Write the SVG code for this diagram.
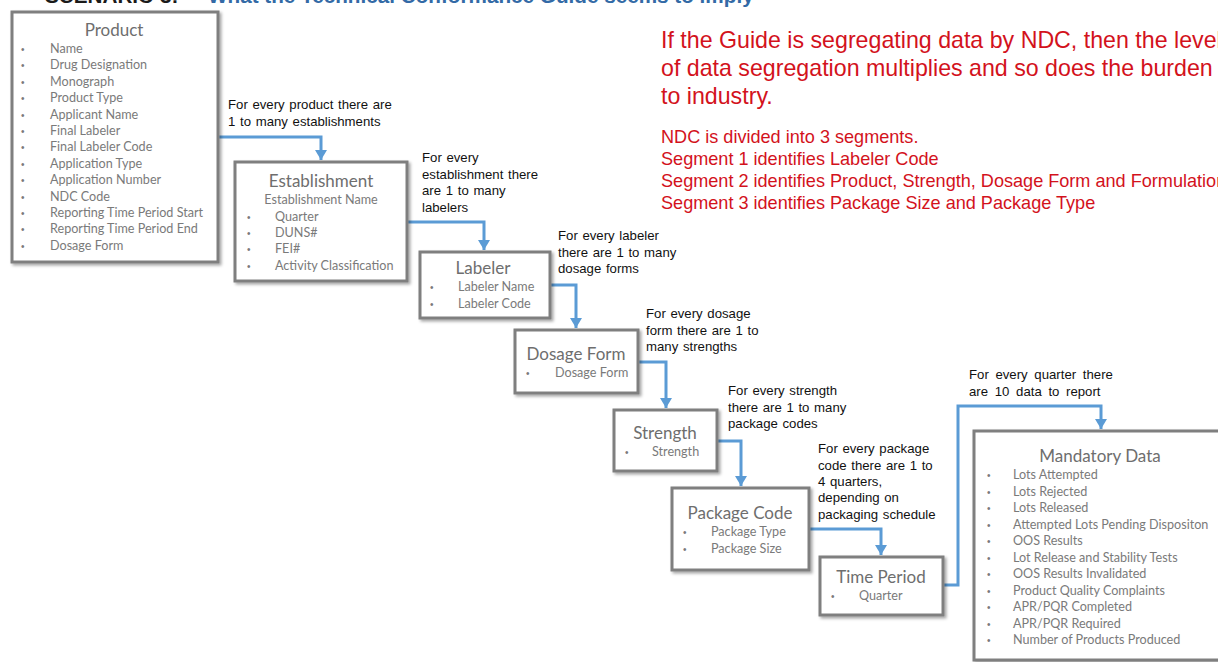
<svg xmlns="http://www.w3.org/2000/svg" width="1218" height="662" viewBox="0 0 1218 662">
<style>
.box{fill:#fff;stroke:#7f7f7f;stroke-width:3;filter:url(#sh)}
.t{font-family:Lato,"Open Sans",sans-serif;font-size:17px;fill:#6e6e6e;text-anchor:middle}
.i{font-family:Lato,"Open Sans",sans-serif;font-size:12.6px;fill:#7a7a7a}
.b{font-family:"Liberation Sans",sans-serif;font-size:10px;fill:#7a7a7a}
.l{font-family:"Liberation Sans",Arial,sans-serif;font-size:13.2px;fill:#111;word-spacing:1px}
.r1{font-family:"Liberation Sans",Arial,sans-serif;font-size:23.2px;fill:#d3121c}
.r2{font-family:"Liberation Sans",Arial,sans-serif;font-size:18.1px;fill:#d3121c}
.c{fill:none;stroke:#5b9bd5;stroke-width:3;marker-end:url(#ah)}
.h{font-family:"Liberation Sans",Arial,sans-serif;font-size:20.7px;font-weight:bold}
</style>
<defs>
<filter id="sh" x="-10%" y="-10%" width="130%" height="130%">
<feDropShadow dx="2" dy="2" stdDeviation="1.5" flood-color="#000" flood-opacity="0.35"/>
</filter>
<marker id="ah" markerUnits="userSpaceOnUse" markerWidth="12" markerHeight="12" refX="10" refY="6" orient="auto">
<path d="M0,0 L10,6 L0,12 z" fill="#5b9bd5"/>
</marker>
</defs>
<rect width="1218" height="662" fill="#fff"/>
<g id="heading">
<text x="45" y="2.5" class="h" fill="#1a1a1a">SCENARIO 3:</text>
<text x="208" y="2.5" class="h" fill="#336aa6">What the Technical Conformance Guide seems to imply</text>
</g>

<g id="connectors">
<path class="c" d="M218,137 H321 V160"/>
<path class="c" d="M407,222 H484 V250"/>
<path class="c" d="M550,285 H576 V328"/>
<path class="c" d="M638,362 H666 V408"/>
<path class="c" d="M717,441 H741 V486"/>
<path class="c" d="M809,529 H881 V555"/>
<path class="c" d="M943,585 H958 V406 H1101 V429"/>
</g>

<g id="labels">
<text class="l"><tspan x="228" y="109">For every product there are</tspan><tspan x="228" y="126">1 to many establishments</tspan></text>
<text class="l"><tspan x="422" y="162">For every</tspan><tspan x="422" y="179">establishment there</tspan><tspan x="422" y="195">are 1 to many</tspan><tspan x="422" y="212">labelers</tspan></text>
<text class="l"><tspan x="558" y="240">For every labeler</tspan><tspan x="558" y="257">there are 1 to many</tspan><tspan x="558" y="273">dosage forms</tspan></text>
<text class="l"><tspan x="646" y="318">For every dosage</tspan><tspan x="646" y="335">form there are 1 to</tspan><tspan x="646" y="351">many strengths</tspan></text>
<text class="l"><tspan x="728" y="395">For every strength</tspan><tspan x="728" y="412">there are 1 to many</tspan><tspan x="728" y="428">package codes</tspan></text>
<text class="l"><tspan x="818" y="453">For every package</tspan><tspan x="818" y="470">code there are 1 to</tspan><tspan x="818" y="486">4 quarters,</tspan><tspan x="818" y="502">depending on</tspan><tspan x="818" y="519">packaging schedule</tspan></text>
<text class="l" style="word-spacing:3px"><tspan x="969" y="379">For every quarter there</tspan><tspan x="969" y="396">are 10 data to report</tspan></text>
</g>

<g id="note">
<text class="r1"><tspan x="661" y="48">If the Guide is segregating data by NDC, then the level</tspan><tspan x="661" y="76">of data segregation multiplies and so does the burden</tspan><tspan x="661" y="104">to industry.</tspan></text>
<text class="r2"><tspan x="661" y="143">NDC is divided into 3 segments.</tspan><tspan x="661" y="165">Segment 1 identifies Labeler Code</tspan><tspan x="661" y="187">Segment 2 identifies Product, Strength, Dosage Form and Formulation</tspan><tspan x="661" y="209">Segment 3 identifies Package Size and Package Type</tspan></text>
</g>

<g id="product">
<rect class="box" x="12" y="12" width="206" height="250"/>
<text class="t" x="114" y="36">Product</text>
<text class="b"><tspan x="21" y="53">•</tspan><tspan x="21" y="69.4">•</tspan><tspan x="21" y="85.8">•</tspan><tspan x="21" y="102.2">•</tspan><tspan x="21" y="118.6">•</tspan><tspan x="21" y="135">•</tspan><tspan x="21" y="151.4">•</tspan><tspan x="21" y="167.8">•</tspan><tspan x="21" y="184.2">•</tspan><tspan x="21" y="200.6">•</tspan><tspan x="21" y="217">•</tspan><tspan x="21" y="233.4">•</tspan><tspan x="21" y="249.8">•</tspan></text>
<text class="i"><tspan x="50" y="53">Name</tspan><tspan x="50" y="69.4">Drug Designation</tspan><tspan x="50" y="85.8">Monograph</tspan><tspan x="50" y="102.2">Product Type</tspan><tspan x="50" y="118.6">Applicant Name</tspan><tspan x="50" y="135">Final Labeler</tspan><tspan x="50" y="151.4">Final Labeler Code</tspan><tspan x="50" y="167.8">Application Type</tspan><tspan x="50" y="184.2">Application Number</tspan><tspan x="50" y="200.6">NDC Code</tspan><tspan x="50" y="217">Reporting Time Period Start</tspan><tspan x="50" y="233.4">Reporting Time Period End</tspan><tspan x="50" y="249.8">Dosage Form</tspan></text>
</g>

<g id="establishment">
<rect class="box" x="235" y="162" width="172" height="119"/>
<text class="t" x="321" y="187">Establishment</text>
<text class="i" x="321" y="204" text-anchor="middle">Establishment Name</text>
<text class="b"><tspan x="247" y="221">•</tspan><tspan x="247" y="237">•</tspan><tspan x="247" y="253">•</tspan><tspan x="247" y="270">•</tspan></text>
<text class="i"><tspan x="275" y="221">Quarter</tspan><tspan x="275" y="237">DUNS#</tspan><tspan x="275" y="253">FEI#</tspan><tspan x="275" y="270">Activity Classification</tspan></text>
</g>

<g id="labeler">
<rect class="box" x="420" y="252" width="130" height="66"/>
<text class="t" x="483" y="274">Labeler</text>
<text class="b"><tspan x="430" y="291">•</tspan><tspan x="430" y="308">•</tspan></text>
<text class="i"><tspan x="458" y="291">Labeler Name</tspan><tspan x="458" y="308">Labeler Code</tspan></text>
</g>

<g id="dosage-form">
<rect class="box" x="515" y="330" width="123" height="63"/>
<text class="t" x="576" y="360">Dosage Form</text>
<text class="b" x="526" y="377">•</text>
<text class="i" x="555" y="377">Dosage Form</text>
</g>

<g id="strength">
<rect class="box" x="614" y="410" width="103" height="61"/>
<text class="t" x="665" y="439">Strength</text>
<text class="b" x="625" y="456">•</text>
<text class="i" x="652" y="456">Strength</text>
</g>

<g id="package-code">
<rect class="box" x="672" y="488" width="137" height="82"/>
<text class="t" x="740" y="519">Package Code</text>
<text class="b"><tspan x="683" y="536">•</tspan><tspan x="683" y="553">•</tspan></text>
<text class="i"><tspan x="711" y="536">Package Type</tspan><tspan x="711" y="553">Package Size</tspan></text>
</g>

<g id="time-period">
<rect class="box" x="820" y="557" width="123" height="58"/>
<text class="t" x="881" y="583">Time Period</text>
<text class="b" x="831" y="600">•</text>
<text class="i" x="859" y="600">Quarter</text>
</g>

<g id="mandatory-data">
<rect class="box" x="974" y="431" width="260" height="229"/>
<text class="t" x="1100" y="462">Mandatory Data</text>
<text class="b"><tspan x="987" y="479">•</tspan><tspan x="987" y="495.5">•</tspan><tspan x="987" y="512">•</tspan><tspan x="987" y="528.5">•</tspan><tspan x="987" y="545">•</tspan><tspan x="987" y="561.5">•</tspan><tspan x="987" y="578">•</tspan><tspan x="987" y="594.5">•</tspan><tspan x="987" y="611">•</tspan><tspan x="987" y="627.5">•</tspan><tspan x="987" y="644">•</tspan></text>
<text class="i"><tspan x="1013" y="479">Lots Attempted</tspan><tspan x="1013" y="495.5">Lots Rejected</tspan><tspan x="1013" y="512">Lots Released</tspan><tspan x="1013" y="528.5">Attempted Lots Pending Dispositon</tspan><tspan x="1013" y="545">OOS Results</tspan><tspan x="1013" y="561.5">Lot Release and Stability Tests</tspan><tspan x="1013" y="578">OOS Results Invalidated</tspan><tspan x="1013" y="594.5">Product Quality Complaints</tspan><tspan x="1013" y="611">APR/PQR Completed</tspan><tspan x="1013" y="627.5">APR/PQR Required</tspan><tspan x="1013" y="644">Number of Products Produced</tspan></text>
</g>
</svg>
